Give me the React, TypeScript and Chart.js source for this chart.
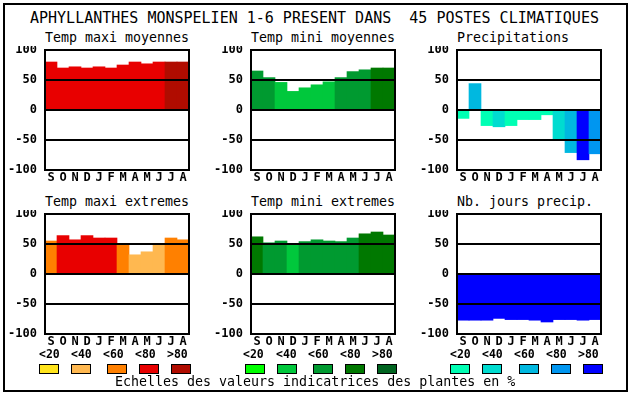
import React, { useEffect, useRef } from 'react';
import { Chart, registerables } from 'chart.js';
Chart.register(...registerables);

const MAIN_TITLE = 'APHYLLANTHES MONSPELIEN 1-6 PRESENT DANS  45 POSTES CLIMATIQUES';
const FOOTER = 'Echelles des valeurs indicatrices des plantes en %';
const MONTHS = ['S', 'O', 'N', 'D', 'J', 'F', 'M', 'A', 'M', 'J', 'J', 'A'];
const SCALE_LABELS = ['<20', '<40', '<60', '<80', '>80'];

const RED_SCALE = ['#FFE41C', '#FFB850', '#FF8000', '#E80000', '#B00C00'];
const GREEN_SCALE = ['#00FF00', '#00C83C', '#009A30', '#007800', '#006420'];
const BLUE_SCALE = ['#00FFB4', '#00DCD0', '#00B8E0', '#0096F0', '#0000FF'];

const TMAX_MOY = [80, 70, 72, 70, 72, 70, 75, 80, 77, 80, 80, 80];
const TMAX_MOY_CLASS = [3, 3, 3, 3, 3, 3, 3, 3, 3, 3, 4, 4];
const TMIN_MOY = [65, 54, 46, 31, 37, 42, 47, 54, 64, 67, 70, 70];
const TMIN_MOY_CLASS = [2, 2, 1, 1, 1, 1, 1, 2, 2, 2, 3, 3];
const PRECIP = [-14, 44, -26, -28, -26, -16, -16, -8, -48, -71, -83, -73];
const PRECIP_CLASS = [0, 2, 0, 1, 0, 0, 0, 0, 1, 2, 4, 3];
const TMAX_EXT = [55, 64, 57, 64, 60, 60, 49, 32, 37, 49, 60, 57];
const TMAX_EXT_CLASS = [2, 3, 3, 3, 3, 3, 2, 1, 1, 1, 2, 2];
const TMIN_EXT = [62, 52, 55, 51, 54, 57, 55, 54, 60, 67, 70, 65];
const TMIN_EXT_CLASS = [3, 2, 2, 1, 2, 2, 2, 2, 2, 3, 3, 3];
const NB_JOURS = [-77, -77, -77, -74, -76, -76, -77, -80, -76, -76, -77, -76];
const NB_JOURS_CLASS = [4, 4, 4, 4, 4, 4, 4, 4, 4, 4, 4, 4];

const MONO = "'DejaVu Sans Mono', monospace";
const YW = 44;
const XH = 18;
const PAD = 4;
const BOX_W = 144;
const BOX_H = 120;

const boxPlugin = {
  id: 'boxFrame',
  afterDraw(chart: any) {
    const { ctx, chartArea } = chart;
    ctx.save();
    ctx.strokeStyle = '#000';
    ctx.lineWidth = 2;
    ctx.strokeRect(chartArea.left, chartArea.top, chartArea.right - chartArea.left, chartArea.bottom - chartArea.top);
    ctx.restore();
  },
};

function Panel(props: { left: number; top: number; title: string; values: number[]; classes: number[]; scale: string[] }) {
  const ref = useRef<HTMLCanvasElement>(null);
  const W = YW + BOX_W + PAD;
  const H = PAD + BOX_H + XH;
  useEffect(() => {
    const chart = new Chart(ref.current as HTMLCanvasElement, {
      type: 'bar',
      data: {
        labels: MONTHS,
        datasets: [
          {
            data: props.values,
            backgroundColor: props.classes.map((c) => props.scale[c]),
            borderWidth: 0,
            barPercentage: 1,
            categoryPercentage: 1,
          },
        ],
      },
      options: {
        animation: false,
        responsive: false,
        maintainAspectRatio: false,
        devicePixelRatio: 1,
        layout: { padding: { left: 0, top: PAD, right: PAD, bottom: 0 } },
        plugins: { legend: { display: false }, tooltip: { enabled: false } },
        scales: {
          x: {
            offset: true,
            grid: { display: false, drawTicks: false },
            border: { display: false },
            ticks: { color: '#000', font: { family: MONO, size: 12, weight: 'bold' }, padding: 1, maxRotation: 0, autoSkip: false },
            afterFit: (s: any) => {
              s.height = XH;
              s.paddingLeft = 0;
              s.paddingRight = 0;
            },
          },
          y: {
            min: -100,
            max: 100,
            grid: {
              drawTicks: false,
              lineWidth: 2,
              z: 1,
              color: (ctx: any) => (ctx.tick && Math.abs(ctx.tick.value) === 100 ? 'rgba(0,0,0,0)' : '#000'),
            },
            border: { display: false },
            ticks: {
              stepSize: 50,
              color: '#000',
              font: { family: MONO, size: 12, weight: 'bold' },
              padding: 8,
              callback: (v: any) => String(v),
            },
            afterFit: (s: any) => {
              s.width = YW;
              s.paddingTop = 0;
              s.paddingBottom = 0;
            },
          },
        },
      } as any,
      plugins: [boxPlugin],
    });
    return () => chart.destroy();
  }, []);
  return (
    <>
      <div
        style={{
          position: 'absolute',
          left: props.left,
          top: props.top - 20,
          fontFamily: MONO,
          fontSize: '13.3px',
          lineHeight: '16px',
          whiteSpace: 'pre',
          color: '#000',
        }}
      >
        {props.title}
      </div>
      <canvas
        ref={ref}
        width={W}
        height={H}
        style={{ position: 'absolute', left: props.left - YW, top: props.top - PAD, width: W, height: H }}
      />
    </>
  );
}

function ScaleLegend(props: { labelLefts: number[]; boxLefts: number[]; colors: string[] }) {
  return (
    <>
      {SCALE_LABELS.map((l, i) => (
        <div
          key={'l' + i}
          style={{
            position: 'absolute',
            left: props.labelLefts[i],
            top: 347,
            fontFamily: MONO,
            fontWeight: 'bold',
            fontSize: '11.5px',
            lineHeight: '14px',
            whiteSpace: 'pre',
            color: '#000',
          }}
        >
          {l}
        </div>
      ))}
      {props.colors.map((c, i) => (
        <div
          key={'b' + i}
          style={{
            position: 'absolute',
            left: props.boxLefts[i],
            top: 364,
            width: 20,
            height: 10,
            boxSizing: 'border-box',
            border: '1px solid #000',
            background: c,
          }}
        />
      ))}
    </>
  );
}

export default function App() {
  return (
    <div style={{ position: 'absolute', left: 0, top: 0, width: 630, height: 394, background: '#fff', overflow: 'hidden' }}>
      <div
        style={{
          position: 'absolute',
          left: 3,
          top: 3,
          width: 625,
          height: 389,
          boxSizing: 'border-box',
          border: '2px solid #000',
        }}
      />
      <div
        style={{
          position: 'absolute',
          left: 30,
          top: 9,
          fontFamily: MONO,
          fontSize: '15px',
          lineHeight: '18px',
          whiteSpace: 'pre',
          color: '#000',
        }}
      >
        {MAIN_TITLE}
      </div>
      <Panel left={45} top={50} title="Temp maxi moyennes" values={TMAX_MOY} classes={TMAX_MOY_CLASS} scale={RED_SCALE} />
      <Panel left={251} top={50} title="Temp mini moyennes" values={TMIN_MOY} classes={TMIN_MOY_CLASS} scale={GREEN_SCALE} />
      <Panel left={457} top={50} title="Precipitations" values={PRECIP} classes={PRECIP_CLASS} scale={BLUE_SCALE} />
      <Panel left={45} top={214} title="Temp maxi extremes" values={TMAX_EXT} classes={TMAX_EXT_CLASS} scale={RED_SCALE} />
      <Panel left={251} top={214} title="Temp mini extremes" values={TMIN_EXT} classes={TMIN_EXT_CLASS} scale={GREEN_SCALE} />
      <Panel left={457} top={214} title="Nb. jours precip." values={NB_JOURS} classes={NB_JOURS_CLASS} scale={BLUE_SCALE} />
      <ScaleLegend labelLefts={[39, 71, 103, 135, 167]} boxLefts={[39, 71, 107, 139, 171]} colors={RED_SCALE} />
      <ScaleLegend labelLefts={[243, 276, 308, 340, 372]} boxLefts={[245, 277, 313, 345, 377]} colors={GREEN_SCALE} />
      <ScaleLegend labelLefts={[450, 482, 514, 546, 578]} boxLefts={[450, 482, 519, 551, 583]} colors={BLUE_SCALE} />
      <div
        style={{
          position: 'absolute',
          left: 115,
          top: 374,
          fontFamily: MONO,
          fontSize: '13.3px',
          lineHeight: '16px',
          whiteSpace: 'pre',
          color: '#000',
        }}
      >
        {FOOTER}
      </div>
    </div>
  );
}
